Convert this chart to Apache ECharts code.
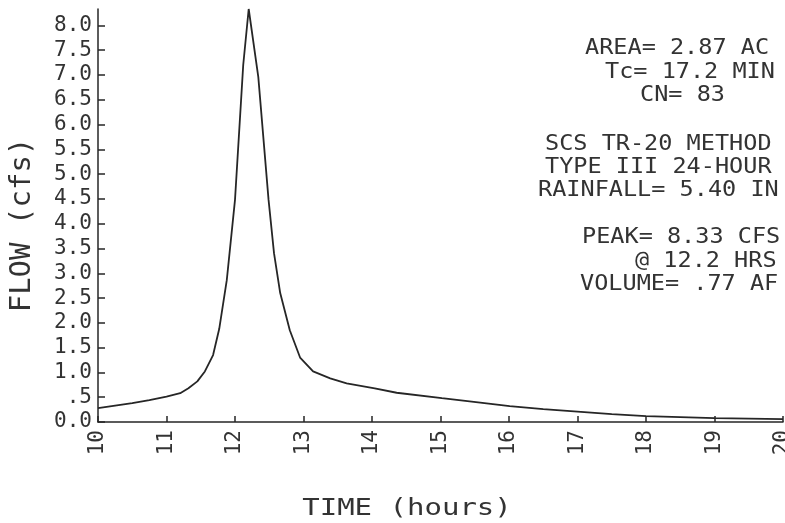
<!DOCTYPE html>
<html>
<head>
<meta charset="utf-8">
<script src="https://cdn.jsdelivr.net/npm/echarts@6/dist/echarts.min.js"></script>
<style>
  html, body { margin: 0; padding: 0; background: #fff; }
  #chart { width: 785px; height: 523px; }
</style>
</head>
<body>
<div id="chart"></div>
<script>
// Runoff hydrograph: time (hours) vs flow (cfs)
const hours = [10.0, 10.25, 10.5, 10.75, 11.0, 11.2, 11.32, 11.45, 11.56, 11.68, 11.77, 11.88, 12.0, 12.12, 12.2,
               12.34, 12.49, 12.57, 12.66, 12.8, 12.95, 13.14, 13.39, 13.63, 14.04, 14.36, 15.02, 15.58, 16.01,
               16.5, 17.0, 17.5, 18.0, 18.5, 19.0, 19.5, 20.0];
const flow  = [0.28, 0.33, 0.38, 0.44, 0.51, 0.58, 0.68, 0.82, 1.02, 1.35, 1.88, 2.86, 4.48, 7.2, 8.33,
               6.96, 4.48, 3.4, 2.6, 1.85, 1.3, 1.02, 0.88, 0.78, 0.68, 0.59, 0.48, 0.39, 0.32,
               0.26, 0.21, 0.16, 0.12, 0.10, 0.08, 0.07, 0.06];

const flowTicks = [0, 0.5, 1, 1.5, 2, 2.5, 3, 3.5, 4, 4.5, 5, 5.5, 6, 6.5, 7, 7.5, 8];
const timeTicks = [10, 11, 12, 13, 14, 15, 16, 17, 18, 19, 20];

const xTitle = 'TIME (hours)';
const yTitle = 'FLOW (cfs)';

// Summary block at the upper right
const notes = [
  'AREA= 2.87 AC',
  'Tc= 17.2 MIN',
  'CN= 83',
  'SCS TR-20 METHOD',
  'TYPE III 24-HOUR',
  'RAINFALL= 5.40 IN',
  'PEAK= 8.33 CFS',
  '@ 12.2 HRS',
  'VOLUME= .77 AF'
];
const noteX = [585, 605, 640, 545, 545, 538, 582, 635, 580];
const noteY = [49, 72.5, 96, 144.5, 167.5, 191, 238, 262, 285];

const INK = '#262626';
const TEXT_INK = '#333';
const MONO = '"DejaVu Sans Mono", "Liberation Mono", monospace';

const chart = echarts.init(document.getElementById('chart'), null, { renderer: 'canvas' });

const graphics = notes.map((t, i) => ({
  type: 'text',
  x: noteX[i],
  y: noteY[i],
  scaleX: 1.12,
  style: {
    text: t,
    fill: TEXT_INK,
    font: '21px ' + MONO,
    textAlign: 'left',
    textVerticalAlign: 'middle'
  }
}));

graphics.push({
  type: 'text',
  x: 22,
  y: 225,
  rotation: Math.PI / 2,
  style: {
    text: yTitle,
    fill: TEXT_INK,
    font: '29px ' + MONO,
    textAlign: 'center',
    textVerticalAlign: 'middle'
  }
});
graphics.push({
  type: 'text',
  x: 407,
  y: 509,
  scaleY: 0.8,
  style: {
    text: xTitle,
    fill: TEXT_INK,
    font: '29px ' + MONO,
    textAlign: 'center',
    textVerticalAlign: 'middle'
  }
});

function flowLabel(v) {
  if (v === 0) return '0.0';
  if (v < 1) return '.' + Math.round(v * 10);
  return v.toFixed(1);
}

chart.setOption({
  animation: false,
  backgroundColor: '#fff',
  grid: { left: 98, right: 2, top: 9, bottom: 101, containLabel: false, outerBoundsMode: 'none' },
  xAxis: {
    type: 'value',
    min: 10,
    max: 20,
    interval: 1,
    splitLine: { show: false },
    axisLine: { lineStyle: { color: INK, width: 1.5 } },
    axisTick: { inside: true, length: 6, lineStyle: { color: INK, width: 1.5 }, customValues: timeTicks },
    axisLabel: {
      customValues: timeTicks,
      rotate: 90,
      margin: 8,
      color: TEXT_INK,
      fontFamily: MONO,
      fontSize: 21,
      hideOverlap: false,
      formatter: v => String(v)
    }
  },
  yAxis: {
    type: 'value',
    min: 0,
    max: 8.33,
    splitLine: { show: false },
    axisLine: { show: true, lineStyle: { color: INK, width: 1.5 } },
    axisTick: { show: true, inside: true, length: 7, lineStyle: { color: INK, width: 1.5 }, customValues: flowTicks },
    axisLabel: {
      customValues: flowTicks,
      margin: 6,
      color: TEXT_INK,
      fontFamily: MONO,
      fontSize: 21,
      formatter: flowLabel
    }
  },
  series: [{
    type: 'line',
    data: hours.map((h, i) => [h, flow[i]]),
    showSymbol: false,
    smooth: false,
    lineStyle: { color: INK, width: 1.8 },
    clip: false
  }],
  graphic: graphics
});
</script>
</body>
</html>
